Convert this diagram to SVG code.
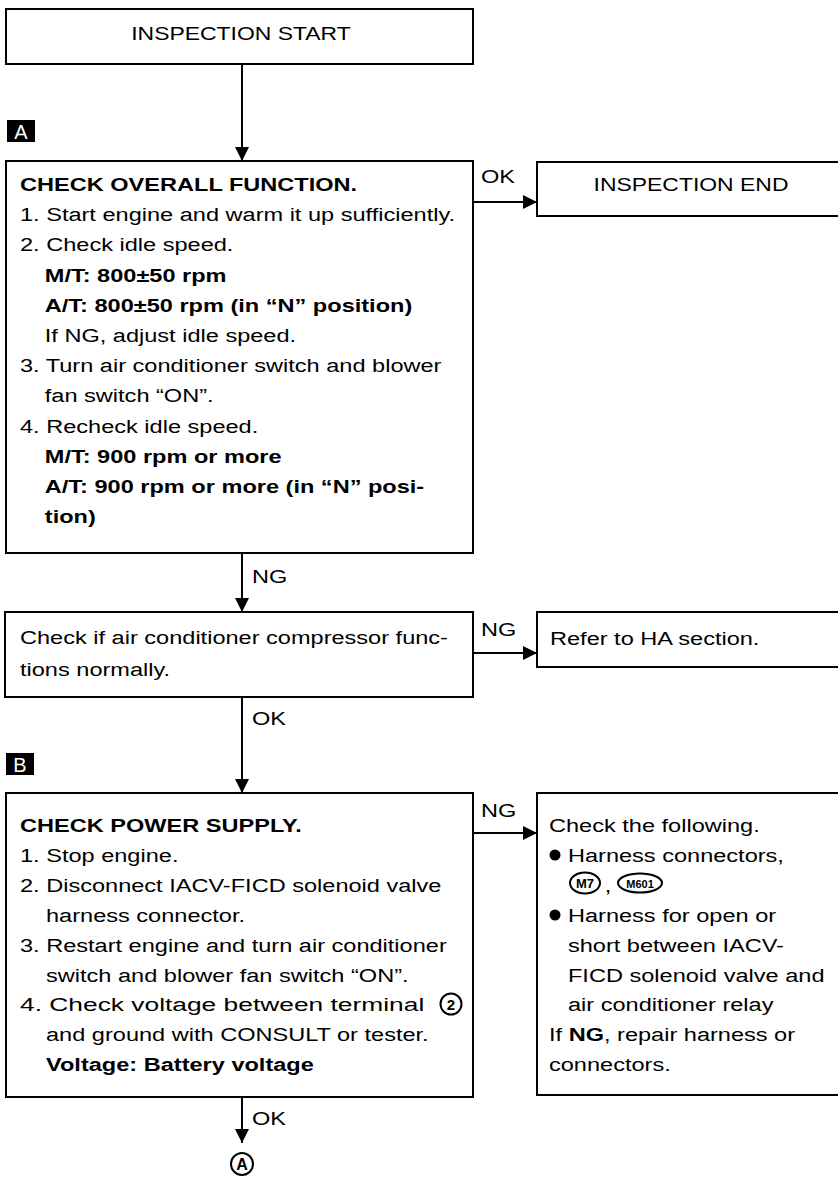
<svg xmlns="http://www.w3.org/2000/svg" width="838" height="1182" viewBox="0 0 838 1182">
<style>
text{font-family:"Liberation Sans",Arial,Helvetica,sans-serif;font-size:19px;fill:#000}
.b{font-weight:bold}
.box{fill:#fff;stroke:#000;stroke-width:2}
.ln{fill:none;stroke:#000;stroke-width:2}
.tag{fill:#000}
.tagt{fill:#fff;font-size:20px}
</style>
<defs>
<marker id="ah" markerUnits="userSpaceOnUse" markerWidth="16" markerHeight="14" refX="14" refY="7" orient="auto">
<path d="M0,0 L14,7 L0,14 Z" fill="#000"/>
</marker>
</defs>
<rect width="838" height="1182" fill="#fff"/>

<g id="connectors">
<path class="ln" d="M242,64 V161" marker-end="url(#ah)"/>
<path class="ln" d="M473,202 H537" marker-end="url(#ah)"/>
<path class="ln" d="M242,553 V612" marker-end="url(#ah)"/>
<path class="ln" d="M473,653 H537" marker-end="url(#ah)"/>
<path class="ln" d="M242,697 V793" marker-end="url(#ah)"/>
<path class="ln" d="M473,833 H537" marker-end="url(#ah)"/>
<path class="ln" d="M242,1097 V1143" marker-end="url(#ah)"/>
<text transform="translate(481,183) scale(1.24,1)">OK</text>
<text transform="translate(252,583) scale(1.24,1)">NG</text>
<text transform="translate(481,636) scale(1.24,1)">NG</text>
<text transform="translate(252,725) scale(1.24,1)">OK</text>
<text transform="translate(481,817) scale(1.24,1)">NG</text>
<text transform="translate(252,1125) scale(1.24,1)">OK</text>
</g>

<g id="tagA">
<rect class="tag" x="7" y="120" width="28" height="22"/>
<text class="tagt" x="21" y="138.5" text-anchor="middle">A</text>
</g>
<g id="tagB">
<rect class="tag" x="6" y="753" width="28" height="22"/>
<text class="tagt" x="20" y="771.5" text-anchor="middle">B</text>
</g>

<g id="start">
<rect class="box" x="6" y="9" width="467" height="55"/>
<text style="font-size:18.5px" transform="translate(241,40) scale(1.24,1)" text-anchor="middle">INSPECTION START</text>
</g>

<g id="end">
<rect class="box" x="537" y="162" width="310" height="54"/>
<text style="font-size:18.5px" transform="translate(691,191) scale(1.24,1)" text-anchor="middle">INSPECTION END</text>
</g>

<g id="overall">
<rect class="box" x="6" y="161" width="467" height="392"/>
<g transform="translate(20,0) scale(1.24,1)">
<text class="b" x="0" y="191">CHECK OVERALL FUNCTION.</text>
<text x="0" y="221">1. Start engine and warm it up sufficiently.</text>
<text x="0" y="251">2. Check idle speed.</text>
<text class="b" x="20" y="282">M/T: 800±50 rpm</text>
<text class="b" x="20" y="312">A/T: 800±50 rpm (in “N” position)</text>
<text x="20" y="342">If NG, adjust idle speed.</text>
<text x="0" y="372">3. Turn air conditioner switch and blower</text>
<text x="20" y="402">fan switch “ON”.</text>
<text x="0" y="433">4. Recheck idle speed.</text>
<text class="b" x="20" y="463">M/T: 900 rpm or more</text>
<text class="b" x="20" y="493">A/T: 900 rpm or more (in “N” posi-</text>
<text class="b" x="20" y="523">tion)</text>
</g>
</g>

<g id="compressor">
<rect class="box" x="5" y="612" width="468" height="85"/>
<g transform="translate(20,0) scale(1.24,1)">
<text x="0" y="644">Check if air conditioner compressor func-</text>
<text x="0" y="676">tions normally.</text>
</g>
</g>

<g id="ha">
<rect class="box" x="537" y="612" width="310" height="55"/>
<text transform="translate(550,645) scale(1.24,1)">Refer to HA section.</text>
</g>

<g id="power">
<rect class="box" x="6" y="793" width="467" height="304"/>
<g transform="translate(20,0) scale(1.24,1)">
<text class="b" x="0" y="832">CHECK POWER SUPPLY.</text>
<text x="0" y="862">1. Stop engine.</text>
<text x="0" y="892">2. Disconnect IACV-FICD solenoid valve</text>
<text x="21" y="922">harness connector.</text>
<text x="0" y="952">3. Restart engine and turn air conditioner</text>
<text x="21" y="982">switch and blower fan switch “ON”.</text>
<text x="0" y="1011" textLength="326" lengthAdjust="spacingAndGlyphs">4. Check voltage between terminal</text>
<text x="21" y="1041">and ground with CONSULT or tester.</text>
<text class="b" x="21" y="1071">Voltage: Battery voltage</text>
</g>
<circle cx="451" cy="1004" r="10.5" fill="none" stroke="#000" stroke-width="2"/>
<text class="b" x="451" y="1010" text-anchor="middle" style="font-size:15px">2</text>
</g>

<g id="following">
<rect class="box" x="537" y="793" width="310" height="302"/>
<circle cx="555" cy="855" r="5.5" fill="#000"/>
<circle cx="555" cy="915" r="5.5" fill="#000"/>
<g transform="translate(549,0) scale(1.24,1)">
<text x="0" y="832">Check the following.</text>
<text x="15.3" y="862">Harness connectors,</text>
<text x="45" y="892">,</text>
<text x="15.3" y="922">Harness for open or</text>
<text x="15.3" y="952">short between IACV-</text>
<text x="15.3" y="982">FICD solenoid valve and</text>
<text x="15.3" y="1011">air conditioner relay</text>
<text x="0" y="1041">If <tspan class="b">NG</tspan>, repair harness or</text>
<text x="0" y="1071">connectors.</text>
</g>
<ellipse cx="585" cy="883" rx="15" ry="10.5" fill="none" stroke="#000" stroke-width="2"/>
<text class="b" x="585" y="888" text-anchor="middle" style="font-size:13px">M7</text>
<ellipse cx="640" cy="883" rx="22" ry="9.5" fill="none" stroke="#000" stroke-width="2"/>
<text class="b" x="640" y="887.5" text-anchor="middle" style="font-size:11px">M601</text>
</g>

<g id="connA">
<circle cx="242" cy="1164" r="11" fill="none" stroke="#000" stroke-width="2"/>
<text class="b" x="242" y="1170" text-anchor="middle" style="font-size:16px">A</text>
</g>
</svg>
